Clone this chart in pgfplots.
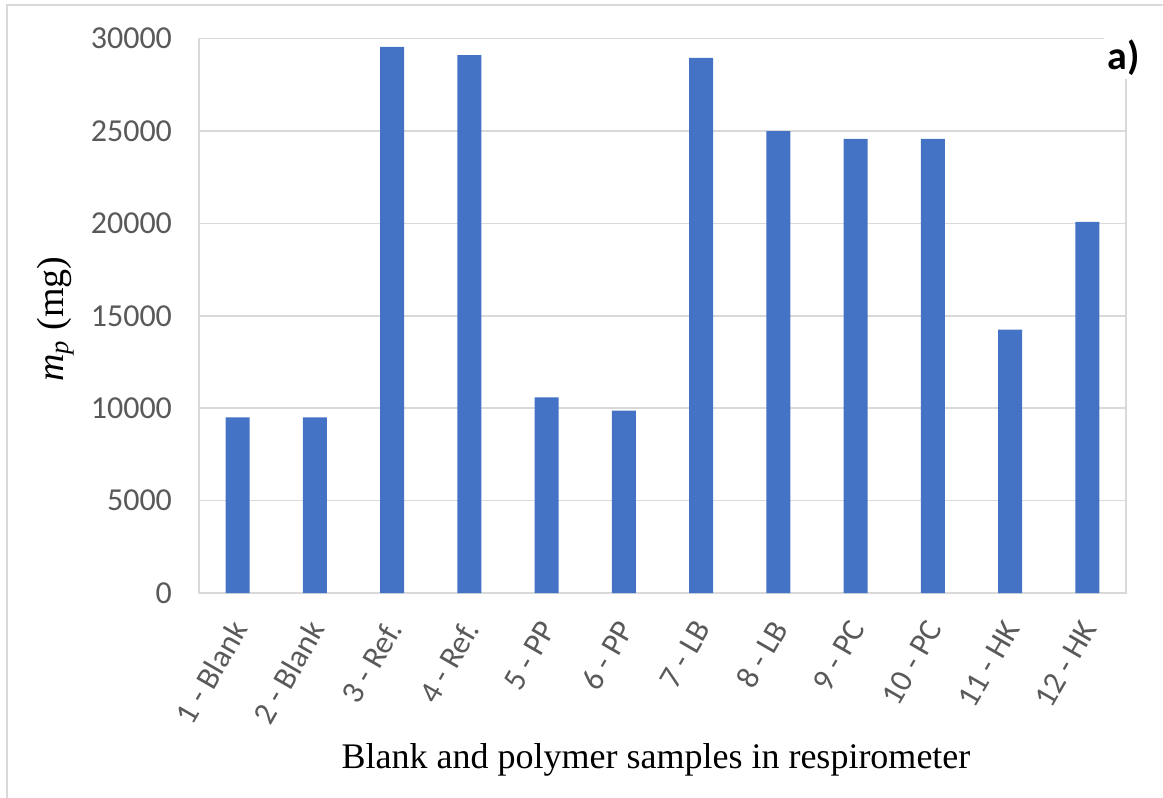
\documentclass[border=0pt]{standalone}
\usepackage{pgfplots}
\pgfplotsset{compat=1.18}
\usepackage{fontspec}
\setmainfont{Liberation Serif}
\newfontfamily\calibri{Carlito}
\definecolor{barblue}{HTML}{4472C4}
\definecolor{gridgray}{HTML}{D9D9D9}
\definecolor{tickgray}{HTML}{595959}
\begin{document}
\begin{tikzpicture}
\begin{axis}[
  at={(0,0)}, anchor=south west,
  scale only axis,
  width=463.5pt, height=277.25pt,
  xmin=-0.5, xmax=11.5,
  ymin=0, ymax=30000,
  clip=false,
  scaled y ticks=false,
  ytick={0,5000,10000,15000,20000,25000,30000},
  xtick={0,...,11},
  xticklabels={1 - Blank,2 - Blank,3 - Ref.,4 - Ref.,5 - PP,6 - PP,7 - LB,8 - LB,9 - PC,10 - PC,11 - HK,12 - HK},
  major tick length=0pt,
  ymajorgrids,
  grid style={gridgray, line width=0.75pt},
  axis line style={gridgray, line width=0.75pt},
  /pgf/number format/assume math mode=true,
  /pgf/number format/1000 sep={},
  yticklabel style={font=\calibri\fontsize{16}{19}\selectfont, text=tickgray, xshift=-10pt},
  xticklabel style={font=\calibri\fontsize{16}{19}\selectfont, text=tickgray, xshift=2.6pt, yshift=-12.3pt, rotate=60, anchor=east},
  xlabel={Blank and polymer samples in respirometer},
  ylabel={\textit{m}\textsubscript{\textit{p}} (mg)},
  xlabel style={font=\fontsize{18}{21}\selectfont, at={(axis description cs:0.493,-0.301)}, anchor=center},
  ylabel style={font=\fontsize{19}{22}\selectfont, at={(axis description cs:-0.155,0.494)}, anchor=center},
]
\addplot[ybar, bar width=12pt, fill=barblue, draw=none] coordinates {
(0,9500) (1,9500) (2,29550) (3,29100) (4,10580) (5,9870) (6,28950) (7,24990) (8,24570) (9,24570) (10,14250) (11,20080)
};
\node[fill=white, inner sep=2pt, font=\calibri\bfseries\fontsize{20}{24}\selectfont] at (rel axis cs:0.9978,0.966) {a)};
\end{axis}
\draw[gridgray, line width=1pt] (-96pt,-102.5pt) -- (-96pt,294pt) -- (482pt,294pt);
\pgfresetboundingbox
\path[use as bounding box] (-99.5pt,-102.5pt) rectangle (482pt,296.5pt);
\end{tikzpicture}
\end{document}
